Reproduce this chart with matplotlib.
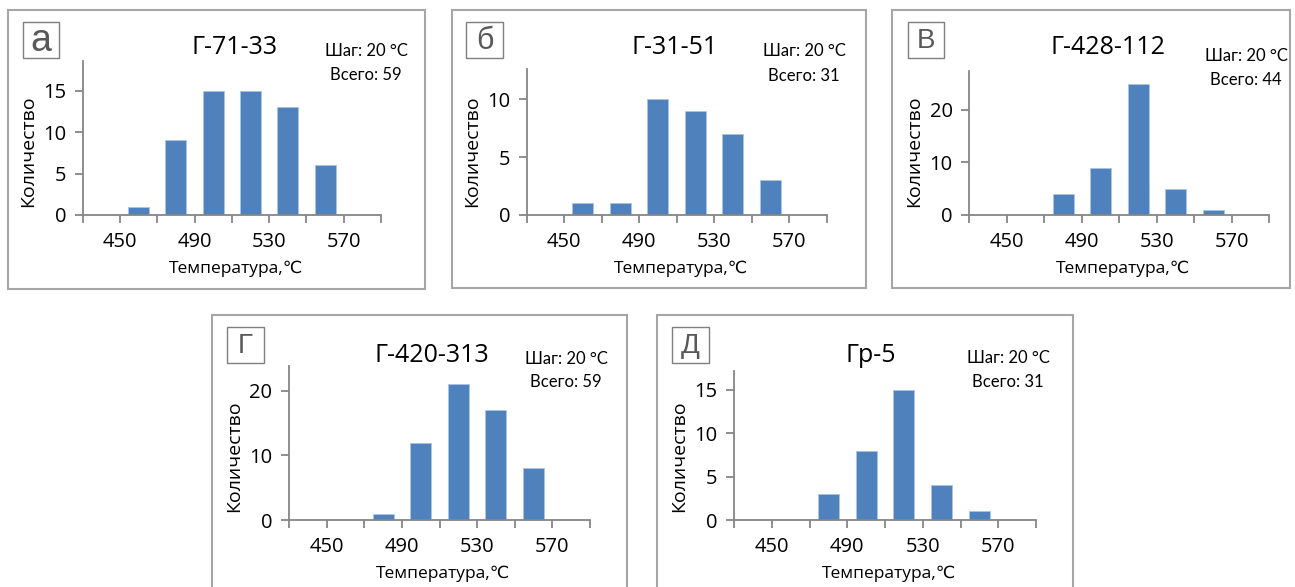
import matplotlib
matplotlib.use("Agg")
import matplotlib.pyplot as plt
from matplotlib.patches import Rectangle

# ---------------- data ----------------
bin_centers = [460, 480, 500, 520, 540, 560]
tick_edges = [430, 450, 470, 490, 510, 530, 550, 570, 590]
tick_labels = ["", "450", "", "490", "", "530", "", "570", ""]

panel_letters = ["а", "б", "В", "Г", "Д"]
sample_names = ["Г-71-33", "Г-31-51", "Г-428-112", "Г-420-313", "Гр-5"]
counts_a = [1, 9, 15, 15, 13, 6]
counts_b = [1, 1, 10, 9, 7, 3]
counts_v = [0, 4, 9, 25, 5, 1]
counts_g = [0, 1, 12, 21, 17, 8]
counts_d = [0, 3, 8, 15, 4, 1]
all_counts = [counts_a, counts_b, counts_v, counts_g, counts_d]
totals = [59, 31, 44, 59, 31]
step_text = "Шаг: 20 °C"
yticks_list = [[0, 5, 10, 15], [0, 5, 10], [0, 10, 20], [0, 10, 20], [0, 5, 10, 15]]
ymax_list = [18.6, 12.6, 27.4, 23.9, 17.2]

# ---------------- layout (pixels) ----------------
W, H = 1295, 587
# (axis x at 430, axis x at 590, y of zero line, y of axis top)
axes_px = [(82.7, 381, 215, 61), (526.7, 826.7, 215, 69), (969.3, 1269.3, 215, 71),
           (289, 590, 520, 365.7), (734, 1036, 520, 370.7)]
frames_px = [(8, 10, 425, 289), (452, 10, 866, 288), (892, 10, 1290, 288),
             (212, 315, 627, 600), (657, 315, 1073, 600)]
boxes_px = [(23, 22, 59, 58), (466, 22, 503, 58), (908, 22, 944, 58),
            (227, 327, 264, 363), (672, 327, 709, 363)]
letter_sizes = [27, 22, 20, 20, 20]
title_px = [(235, 47), (675, 47), (1108, 48), (432, 356), (871, 356)]
note_px = [(366, 51, 75), (804, 51, 76), (1246, 56, 80), (566, 359, 382), (1008, 358, 382)]

BAR = "#4F81BD"
AXC = "#868686"
FRAME = "#a6a6a6"
SANS = ["Open Sans", "DejaVu Sans"]
NARROW = ["Lato", "DejaVu Sans"]

fig = plt.figure(figsize=(W / 100, H / 100), dpi=100)
fig.patch.set_facecolor("white")


def fx(x):
    return x / W


def fy(y):
    return 1 - y / H


for i in range(5):
    # outer frame
    l, t, r, b = frames_px[i]
    fig.patches.append(Rectangle((fx(l), fy(b)), fx(r - l), (b - t) / H,
                                 transform=fig.transFigure, fill=False,
                                 edgecolor=FRAME, linewidth=1.5, zorder=0))
    # letter box
    l, t, r, b = boxes_px[i]
    fig.patches.append(Rectangle((fx(l), fy(b)), fx(r - l), (b - t) / H,
                                 transform=fig.transFigure, fill=False,
                                 edgecolor="#7f7f7f", linewidth=1.0))
    fig.text(fx((l + r) / 2), fy((t + b) / 2 + 1), panel_letters[i],
             fontsize=letter_sizes[i], color="#595959",
             family=["Liberation Sans", "DejaVu Sans"], ha="center", va="center")

    x0, x1, yb, yt = axes_px[i]
    ax = fig.add_axes([fx(x0), fy(yb), fx(x1 - x0), (yb - yt) / H])
    ax.bar(bin_centers, all_counts[i], width=11.2, color=BAR,
           edgecolor="#a9c4e6", linewidth=0.6, zorder=2)
    ax.set_xlim(430, 590)
    ax.set_ylim(0, ymax_list[i])
    ax.set_facecolor("none")
    for s in ["top", "right"]:
        ax.spines[s].set_visible(False)
    for s in ["left", "bottom"]:
        ax.spines[s].set_color(AXC)
        ax.spines[s].set_linewidth(1.3)
    ax.set_xticks(tick_edges)
    ax.set_xticklabels(tick_labels, family=SANS, fontsize=14.5)
    ax.set_yticks(yticks_list[i])
    ax.set_yticklabels([str(v) for v in yticks_list[i]], family=SANS, fontsize=14.5)
    ax.tick_params(axis="x", direction="out", length=6, width=1.3, color=AXC, pad=6)
    ax.tick_params(axis="y", direction="out", length=6, width=1.3, color=AXC, pad=6)

    # axis labels
    fig.text(fx((x0 + x1) / 2 + 4), fy(yb + 54), "Температура,℃", family=SANS,
             fontsize=12.5, ha="center", va="center")
    fig.text(fx(x0 - 55), fy(yb - 64), "Количество", family=SANS,
             fontsize=14, ha="center", va="center", rotation=90)

    # title and notes
    tx, ty = title_px[i]
    fig.text(fx(tx), fy(ty), sample_names[i], family=SANS, fontsize=18,
             ha="center", va="center")
    nx, ny1, ny2 = note_px[i]
    fig.text(fx(nx), fy(ny1), step_text, family=NARROW, fontsize=12,
             ha="center", va="center")
    fig.text(fx(nx), fy(ny2), f"Всего: {totals[i]}", family=NARROW, fontsize=12,
             ha="center", va="center")

fig.savefig("out.png", dpi=100, facecolor="white")
